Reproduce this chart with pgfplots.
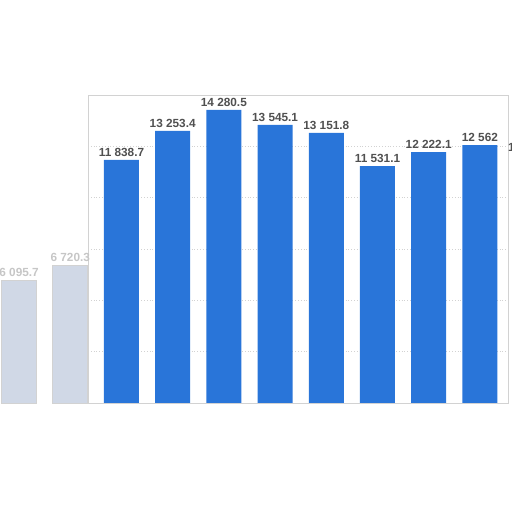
\documentclass[border=0pt]{standalone}
\usepackage{pgfplots}
\pgfplotsset{compat=1.18}
\usepackage{fontspec}
\setmainfont{Liberation Sans}
\definecolor{barblue}{RGB}{41,117,217}
\definecolor{fadebar}{RGB}{208,216,230}
\definecolor{labelgray}{RGB}{80,80,80}
\begin{document}
\begin{tikzpicture}
% page = 512x512 px, 1 px = 0.5pt, origin at the axis' lower left corner
\useasboundingbox (-44pt,-54.5pt) rectangle (212pt,201.5pt);
\clip (-44pt,-54.5pt) rectangle (212pt,201.5pt);
\begin{axis}[
    at={(0,0)}, anchor=south west,
    scale only axis,
    width=210pt, height=154pt,
    xmin=1.346, xmax=9.549,
    ymin=0, ymax=15000,
    clip=false,
    xtick=\empty,
    ytick={2500,5000,7500,10000,12500},
    yticklabels={},
    scaled y ticks=false,
    major tick length=0pt,
    ymajorgrids=true,
    grid style={gray!35, densely dotted},
    axis line style={draw=gray!35},
    ybar, bar width=17.5pt,
    point meta=explicit symbolic,
    nodes near coords={\pgfplotspointmeta},
    every node near coord/.append style={font=\bfseries\fontsize{5.9}{6}\selectfont, inner sep=1.5pt},
]
% faded bars on the left
\addplot[bar shift=0pt, fill=fadebar, draw=gray!35, every node near coord/.append style={text=gray!45}]
    coordinates {(0,5990) [6 095.7] (1,6720) [6 720.3]};
% main bars
\addplot[bar shift=0pt, fill=barblue, draw=none, every node near coord/.append style={text=labelgray}]
    coordinates {
    (2,11838.7) [11 838.7]
    (3,13253.4) [13 253.4]
    (4,14280.5) [14 280.5]
    (5,13545.1) [13 545.1]
    (6,13151.8) [13 151.8]
    (7,11531.1) [11 531.1]
    (8,12222.1) [12 222.1]
    (9,12562) [12 562]
    (10,12080) [12 080.4]
    };
\end{axis}
\end{tikzpicture}
\end{document}
